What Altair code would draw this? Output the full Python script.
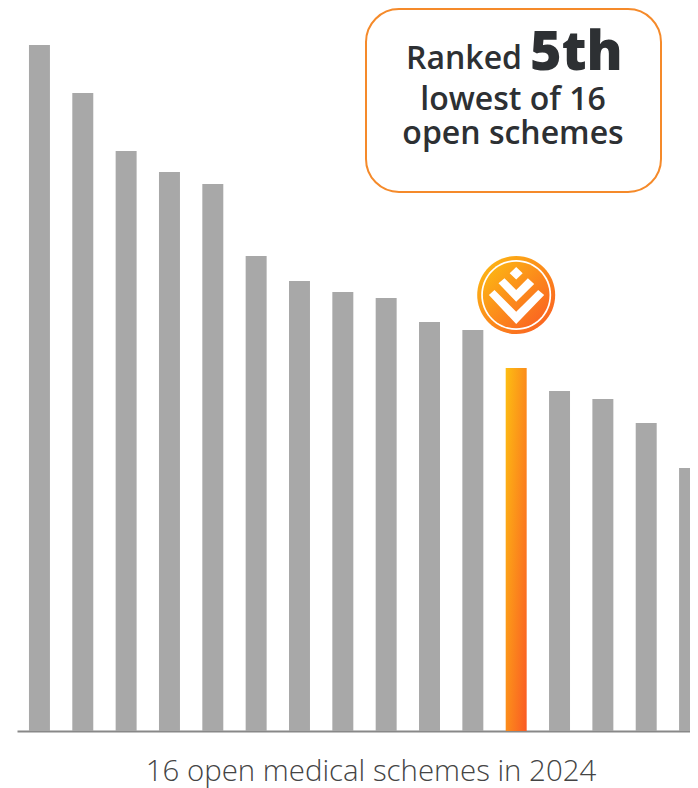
import altair as alt
import pandas as pd

schemes = [f"S{i:02d}" for i in range(1, 17)]
values = [686, 638, 580, 559, 547, 475, 450, 439, 433, 409, 401, 363, 340, 332, 308, 263]
highlight = "S12"
badge_value = 436
x_title = "16 open medical schemes in 2024"
GREY = "#A8A8A8"
FONT = "Open Sans"
DARK = "#2D3033"

df = pd.DataFrame({"scheme": schemes, "value": values})
badge_df = pd.DataFrame({"scheme": [highlight], "value": [badge_value]})

def grad():
    return alt.LinearGradient(
        gradient="linear", x1=0, y1=0, x2=1, y2=1,
        stops=[alt.GradientStop(color="#FDBE12", offset=0),
               alt.GradientStop(color="#FA5A24", offset=1)],
    )

x = alt.X(
    "scheme:N", sort=schemes, title=x_title,
    scale=alt.Scale(range=[9, 704], paddingInner=0.516, paddingOuter=0.276),
    axis=alt.Axis(labels=False, ticks=False, grid=False, domainColor="#888888", domainWidth=2,
                  titleFont=FONT, titleFontSize=29.4, titleFontWeight=300, titleColor="#444444",
                  titleX=362.5, titleY=49, titleAlign="center", titleBaseline="alphabetic"),
)
y = alt.Y("value:Q", axis=None, scale=alt.Scale(domain=[0, 723], nice=False))

bars = alt.Chart(df).transform_filter(alt.datum.scheme != highlight).mark_bar(color=GREY).encode(x=x, y=y)
hi = alt.Chart(df).transform_filter(alt.datum.scheme == highlight).mark_bar(color=grad()).encode(x=x, y=y)

def u(points):
    return "M" + "L".join(f"{px/40:.4f},{py/40:.4f}" for px, py in points) + "Z"

def circle(r):
    a = r / 40
    return f"M{-a},0A{a},{a} 0 1,1 {a},0A{a},{a} 0 1,1 {-a},0Z"

chev = (
    u([(0, -28), (6.5, -21.7), (0, -15.5), (-6.5, -21.7)])
    + u([(-17.7, -11.7), (-11.7, -16.7), (0, -5), (11.7, -16.7), (18, -11), (0, 6.7)])
    + u([(-27.3, 0), (-21.7, -5), (0, 16.7), (22, -5), (28, 0), (0, 29)])
)

def badge(shape, **kw):
    return alt.Chart(badge_df).mark_point(filled=True, opacity=1, size=6400, shape=shape, **kw).encode(
        x=alt.X("scheme:N", sort=schemes), y=alt.Y("value:Q"))

badge_layers = [
    badge(circle(39), fill=grad()),
    badge(circle(35), fill="#FFFFFF"),
    badge(circle(33.3), fill=grad()),
    badge(chev, fill="#FFFFFF"),
]

box = alt.Chart(df.head(1)).mark_rect(
    fill="#FFFFFF", stroke="#F58A2A", strokeWidth=2, cornerRadius=33
).encode(x=alt.value(358), x2=alt.value(653), y=alt.value(1), y2=alt.value(184))

def label(txt, xp, yp, size, weight, align):
    return alt.Chart(df.head(1)).mark_text(
        text=txt, font=FONT, fontSize=size, fontWeight=weight, color=DARK, align=align, baseline="alphabetic"
    ).encode(x=alt.value(xp), y=alt.value(yp))

texts = [
    label("Ranked", 398, 61, 32, 600, "left"),
    label("5th", 522, 62, 54, 800, "left"),
    label("lowest of 16", 505, 102, 32, 600, "center"),
    label("open schemes", 505, 136, 32, 600, "center"),
]

chart = alt.layer(bars, hi, *badge_layers, box, *texts).properties(
    width=682, height=723,
    padding={"left": 0, "top": 0, "right": 0, "bottom": 57},
    autosize=alt.AutoSizeParams(type="none"),
).configure_view(stroke=None)

chart.save("out.html", embed_options={"renderer": "svg", "actions": False})
